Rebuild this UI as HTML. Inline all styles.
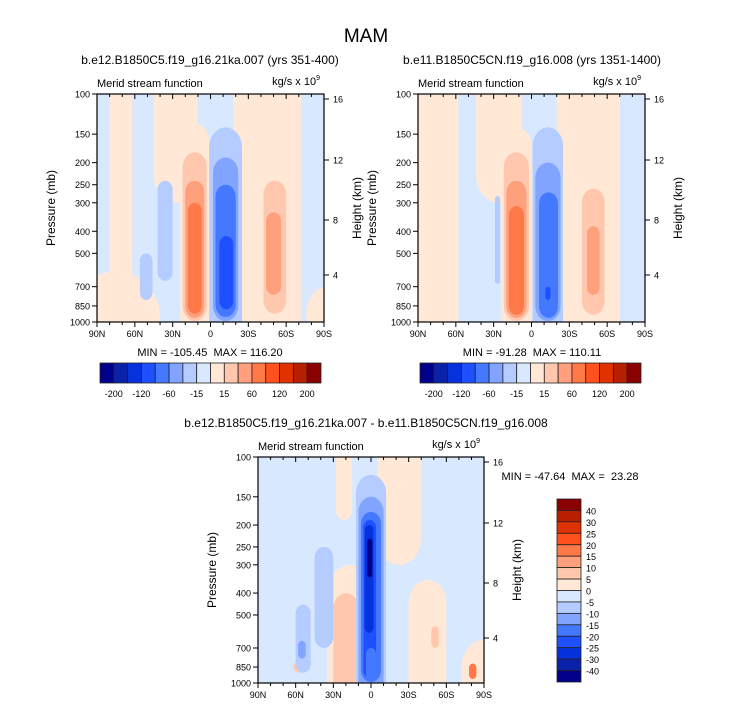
<!DOCTYPE html>
<html><head><meta charset="utf-8"><style>
body{margin:0;background:#fff;}
svg{display:block;font-family:"Liberation Sans",sans-serif;}
text{white-space:pre;}
</style></head><body>
<svg id="chart" width="733" height="708" viewBox="0 0 733 708">
<text x="366" y="42" font-size="19" text-anchor="middle">MAM</text>
</svg>
<script>
const COLORS=["#00008b","#0a22a8","#0532dc","#1e50ff","#4478ff","#80a4ff","#b4ccff","#d8e8ff","#ffe8d6","#ffc8ae","#ffa07c","#ff7848","#ff501e","#e03200","#b81e00","#8b0000"];
const pressureTicks=[100,150,200,250,300,400,500,700,850,1000];
const heightTicks=[16,12,8,4];
const latTicks=[90,60,30,0,-30,-60,-90];
const latLabels=["90N","60N","30N","0","30S","60S","90S"];
const topBarLabels=["-200","-120","-60","-15","15","60","120","200"];
const diffBarLabels=["40","30","25","20","15","10","5","0","-5","-10","-15","-20","-25","-30","-40"];
// blobs: [latNorth, latSouth, pTop, pBottom, colorIndex]
const blobsLeft=[[80,62,100,1000,8],[85,40,600,1000,8],[45,10,100,300,8],[-18,-72,100,1000,8],[24,1,135,1000,8],[22,3,180,990,9],[20,5,240,960,10],[18,7,300,920,11],
[1,-25,140,1000,6],[-2,-22,190,990,5],[-4,-20,250,950,4],[-7,-18,420,880,3],[42,30,240,660,6],[56,46,500,800,6],[-42,-60,240,920,9],[-44,-56,330,760,10],[-72,-90,100,1000,7],[-76,-90,700,1000,8]];
const blobsRight=[[90,58,100,1000,8],[44,8,100,300,8],[-20,-76,100,1000,8],[24,0,140,1000,8],[22,2,180,990,9],[20,4,240,960,10],[18,6,310,930,11],
[-1,-25,140,1000,6],[-3,-23,200,990,5],[-6,-21,270,960,4],[-11,-15,700,800,3],[29,25,280,680,6],[-40,-58,260,930,9],[-44,-54,380,760,10],[-70,-90,100,1000,7]];
const blobsDiff=[[28,15,100,190,8],[-5,-40,100,300,8],[-30,-60,350,1000,8],[35,-2,300,1000,8],[30,10,400,1000,9],[-48,-54,560,700,9],[-72,-88,640,1000,8],[-78,-84,820,960,11],[62,50,800,900,9],
[45,30,250,700,6],[60,48,450,900,6],[58,52,650,780,5],[12,-12,120,1000,6],[10,-10,150,1000,5],[8,-8,175,990,4],[6,-4,190,950,3],[5,-2,200,600,2],[3,-1,230,340,0],[4,-4,700,980,4]];
const svg=document.getElementById('chart');
const NS='http://www.w3.org/2000/svg';
function mk(tag,attrs,parent){const e=document.createElementNS(NS,tag);for(const k in attrs)e.setAttribute(k,attrs[k]);(parent||svg).appendChild(e);return e;}
function txt(x,y,s,size,anchor,parent){const t=mk('text',{x:x,y:y,'font-size':size,'text-anchor':anchor||'middle'},parent);t.textContent=s;return t;}
function panel(id,x0,y0,w,h,blobs,title,tx,bg,mm,mmx,mmy){
  const xs=lat=>x0+(90-lat)/180*w;
  const ys=p=>y0+Math.log10(p/100)*h;
  const g=mk('g',{});
  
  
  const cp=mk('clipPath',{id:'clip-'+id},g);mk('rect',{x:x0,y:y0,width:w,height:h},cp);
  const plot=mk('g',{'clip-path':'url(#clip-'+id+')'},g);
  mk('rect',{x:x0,y:y0,width:w,height:h,fill:COLORS[7]},plot);
  blobs.forEach(b=>{
    const ln=b[0]>=85?110:b[0], ls=b[1]<=-85?-110:b[1];
    const pt=b[2]<=100?60:b[2], pb=b[3]>=1000?1500:b[3];
    const xa=xs(ln),xb=xs(ls),ya=ys(pt),yb=ys(pb);
    const ww=xb-xa,hh=yb-ya;
    const r=mk('rect',{x:xa,y:ya,width:ww,height:hh,rx:ww/2,ry:Math.min(hh/2,ww*0.6),fill:COLORS[b[4]]},plot);
    
    
  });
  mk('rect',{x:x0,y:y0,width:w,height:h,fill:'none',stroke:'#000','stroke-width':1.2},g);
  pressureTicks.forEach(p=>{const y=ys(p);mk('line',{x1:x0-5,x2:x0,y1:y,y2:y,stroke:'#000'},g);
    const t=txt(x0-7,y+3.5,String(p),9,'end',g);});
  const hy=[y0+5,y0+66,y0+126,y0+181];
  heightTicks.forEach((hv,i)=>{const y=hy[i];mk('line',{x1:x0+w,x2:x0+w+5,y1:y,y2:y,stroke:'#000'},g);
    const t=txt(x0+w+9,y+3.5,String(hv),9,'start',g);});
  for(let l=90;l>=-90;l-=10){const x=xs(l);const major=l%30===0;
    mk('line',{x1:x,x2:x,y1:y0+h,y2:y0+h+(major?5:3),stroke:'#000'},g);
    mk('line',{x1:x,x2:x,y1:y0,y2:y0+(major?5:3),stroke:'#000'},g);}
  latTicks.forEach((l,i)=>{const t=txt(xs(l),y0+h+15,latLabels[i],9,'middle',g);});
  const yl=txt(0,0,'Pressure (mb)',12,'middle',g);yl.setAttribute('transform','translate('+(x0-42)+','+(y0+h/2)+') rotate(-90)');
  
  const hl=txt(0,0,'Height (km)',12,'middle',g);hl.setAttribute('transform','translate('+(x0+w+37)+','+(y0+h/2)+') rotate(-90)');
  
  const ms=txt(x0,y0-7,'Merid stream function',11,'start',g);
  const un=mk('text',{x:x0+w-4,y:y0-9,'font-size':11,'text-anchor':'end'},g);un.innerHTML='kg/s x 10<tspan dy="-5" font-size="7">9</tspan>';
  
  const tt=txt(tx,y0-30,title,12,'middle',g);
  const m=txt(mmx,mmy,mm,11,'middle',g);
}
panel('panel-left',97,94,227,228,blobsLeft,'b.e12.B1850C5.f19_g16.21ka.007 (yrs 351-400)',210,0,'MIN = -105.45  MAX = 116.20',210,356);
panel('panel-right',418,94,227,228,blobsRight,'b.e11.B1850C5CN.f19_g16.008 (yrs 1351-1400)',532,0,'MIN = -91.28  MAX = 110.11',532,356);
panel('panel-diff',258,457,226,226,blobsDiff,'b.e12.B1850C5.f19_g16.21ka.007 - b.e11.B1850C5CN.f19_g16.008',366,0,'MIN = -47.64  MAX =  23.28',570,480);
function hbar(id,x0,y0,w,h){const g=mk('g',{});
  const bw=w/16;COLORS.forEach((c,i)=>mk('rect',{x:x0+i*bw,y:y0,width:bw,height:h,fill:c,stroke:'#222','stroke-width':0.8},g));
  topBarLabels.forEach((s,i)=>{const t=txt(x0+(1+2*i)*bw,y0+h+14,s,9,'middle',g);});}
hbar('colorbar-left',100,363,221,20);
hbar('colorbar-right',420,363,221,20);
(function(){const g=mk('g',{});
  const x0=557,y0=499,w=24,h=183,bh=h/16;
  for(let i=0;i<16;i++)mk('rect',{x:x0,y:y0+i*bh,width:w,height:bh,fill:COLORS[15-i],stroke:'#222','stroke-width':0.8},g);
  diffBarLabels.forEach((s,i)=>{const t=txt(x0+w+5,y0+(i+1)*bh+4,s,9,'start',g);});})();
</script>
</body></html>
